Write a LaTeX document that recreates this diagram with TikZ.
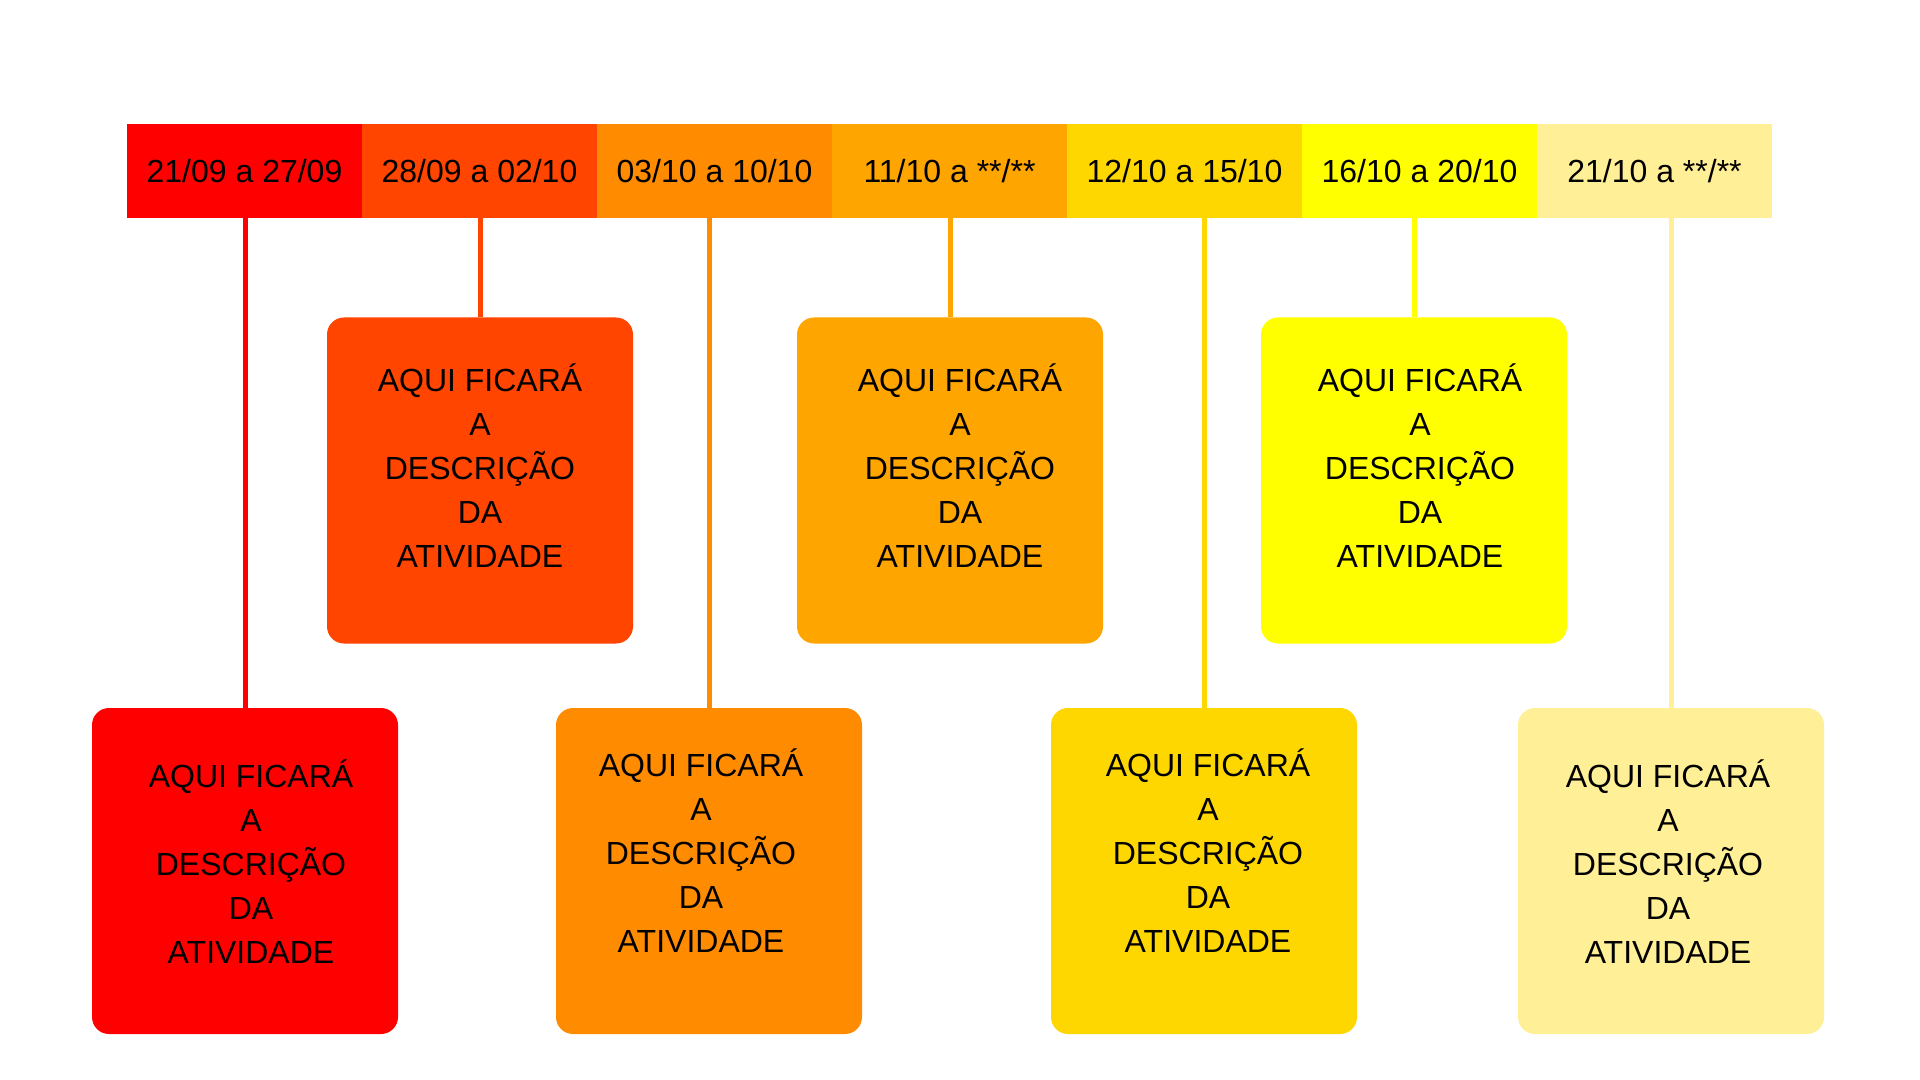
\documentclass[tikz,border=0pt]{standalone}
\usepackage{fontspec}
\setmainfont{Liberation Sans}
\usetikzlibrary{positioning}
\definecolor{wk1}{RGB}{255,0,0}
\definecolor{wk2}{RGB}{255,69,0}
\definecolor{wk3}{RGB}{255,140,0}
\definecolor{wk4}{RGB}{255,165,0}
\definecolor{wk5}{RGB}{255,215,0}
\definecolor{wk6}{RGB}{255,255,0}
\definecolor{wk7}{RGB}{255,239,150}
\newcommand{\atividade}{AQUI FICARÁ\\A\\DESCRIÇÃO\\DA\\ATIVIDADE}

\begin{document}
\begin{tikzpicture}[x=0.5pt,y=-0.5pt,
    every node/.style={font=\fontsize{16pt}{22pt}\selectfont, inner sep=0pt, outer sep=0pt},
    week/.style={fill=#1, minimum width=117.5pt, minimum height=47pt},
    card/.style={fill=#1, rounded corners=8.5pt, minimum width=153pt, minimum height=163pt},
    desc/.style={align=center},
    stem/.style={draw=#1, line width=2.5pt}]

    \fill[white] (0,0) rectangle (1920,1080);
    \useasboundingbox (0,0) rectangle (1920,1080);

    % faixa de datas
    \node[week=wk1] (w1) at (244.5,171) {21/09 a 27/09};
    \node[week=wk2, right=0pt of w1] (w2) {28/09 a 02/10};
    \node[week=wk3, right=0pt of w2] (w3) {03/10 a 10/10};
    \node[week=wk4, right=0pt of w3] (w4) {11/10 a **/**};
    \node[week=wk5, right=0pt of w4] (w5) {12/10 a 15/10};
    \node[week=wk6, right=0pt of w5] (w6) {16/10 a 20/10};
    \node[week=wk7, right=0pt of w6] (w7) {21/10 a **/**};

    % caixas
    \node[card=wk1] (b1) at (245,871) {};
    \node[card=wk2] (b2) at (480,480.5) {};
    \node[card=wk3] (b3) at (709,871) {};
    \node[card=wk4] (b4) at (950,480.5) {};
    \node[card=wk5] (b5) at (1204,871) {};
    \node[card=wk6] (b6) at (1414,480.5) {};
    \node[card=wk7] (b7) at (1671,871) {};

    \node[desc] (t1) at ([shift={(6,-9)}]b1.center) {\atividade};
    \node[desc] (t2) at ([shift={(0,-15)}]b2.center) {\atividade};
    \node[desc] (t3) at ([shift={(-8,-20)}]b3.center) {\atividade};
    \node[desc] (t4) at ([shift={(10,-15)}]b4.center) {\atividade};
    \node[desc] (t5) at ([shift={(4,-20)}]b5.center) {\atividade};
    \node[desc] (t6) at ([shift={(6,-15)}]b6.center) {\atividade};
    \node[desc] (t7) at ([shift={(-3,-9)}]b7.center) {\atividade};

    % ligacoes
    \draw[stem=wk1] (w1.south -| b1.north) -- (b1.north);
    \draw[stem=wk2] (w2.south -| b2.north) -- (b2.north);
    \draw[stem=wk3] (w3.south -| b3.north) -- (b3.north);
    \draw[stem=wk4] (w4.south -| b4.north) -- (b4.north);
    \draw[stem=wk5] (w5.south -| b5.north) -- (b5.north);
    \draw[stem=wk6] (w6.south -| b6.north) -- (b6.north);
    \draw[stem=wk7] (w7.south -| b7.north) -- (b7.north);

\end{tikzpicture}
\end{document}
